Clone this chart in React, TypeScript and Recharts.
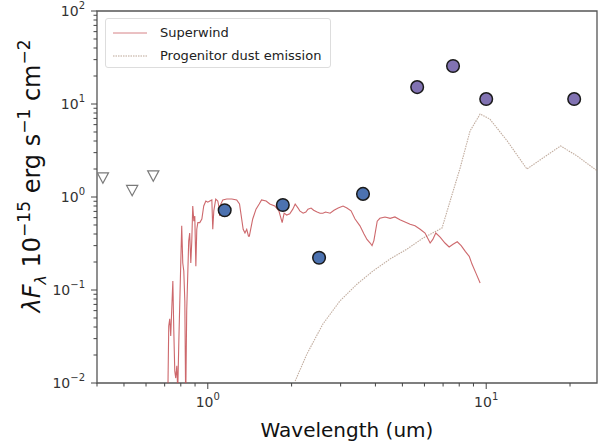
import { ComposedChart, Line, Scatter, XAxis, YAxis, ReferenceArea } from "recharts"

// Superwind model spectrum (wavelength in um, lambda F_lambda in 1e-15 erg/s/cm2)
const swWave = [
  0.718, 0.724, 0.73, 0.736, 0.749, 0.755, 0.761, 0.767, 0.774, 0.78, 0.787, 0.8, 0.806, 0.813,
  0.82, 0.827, 0.833, 0.84, 0.854, 0.861, 0.869, 0.876, 0.883, 0.891, 0.898, 0.906, 0.913, 0.921,
  0.936, 0.952, 0.967, 0.984, 1.0, 1.017, 1.034, 1.042, 1.051, 1.068, 1.086, 1.095, 1.104, 1.114,
  1.132, 1.17, 1.22, 1.27, 1.3, 1.34, 1.36, 1.38, 1.4, 1.41, 1.45, 1.49, 1.53, 1.56, 1.62, 1.67,
  1.74, 1.8, 1.85, 1.88, 1.92, 1.97, 2.02, 2.06, 2.11, 2.14, 2.2, 2.25, 2.29, 2.35, 2.4, 2.47,
  2.53, 2.59, 2.65, 2.75, 2.84, 2.94, 3.06, 3.16, 3.27, 3.38, 3.52, 3.64, 3.73, 3.83, 3.89, 3.95,
  4.06, 4.15, 4.33, 4.52, 4.7, 4.9, 5.11, 5.33, 5.55, 5.79, 6.03, 6.29, 6.43, 6.59, 6.83, 7.11,
  7.36, 7.6, 7.87, 8.13, 8.41, 8.69, 8.89, 9.2, 9.51,
]
const swFlux = [
  0.006, 0.041, 0.049, 0.032, 0.125, 0.036, 0.0135, 0.0113, 0.0153, 0.0082, 0.028, 0.205, 0.49, 0.195,
  0.16, 0.076, 0.006, 0.06, 0.336, 0.41, 0.195, 0.336, 0.8, 0.55, 0.625, 0.18, 0.45, 0.53,
  0.53, 0.58, 0.8, 0.906, 0.88, 0.906, 0.93, 0.45, 0.71, 0.95, 0.906, 0.8, 0.625, 0.84,
  0.93, 0.95, 0.95, 0.93, 0.84, 0.45, 0.41, 0.45, 0.38, 0.38, 0.58, 0.74, 0.84, 0.93, 0.906, 0.84,
  0.8, 0.71, 0.53, 0.67, 0.64, 0.66, 0.74, 0.84, 0.76, 0.71, 0.67, 0.69, 0.74, 0.76, 0.72, 0.69,
  0.67, 0.67, 0.69, 0.67, 0.72, 0.76, 0.8, 0.76, 0.71, 0.58, 0.49, 0.4, 0.35, 0.32, 0.3, 0.34,
  0.55, 0.59, 0.61, 0.59, 0.61, 0.57, 0.54, 0.51, 0.49, 0.45, 0.41, 0.32, 0.35, 0.41, 0.37, 0.32,
  0.29, 0.31, 0.33, 0.3, 0.26, 0.23, 0.19, 0.15, 0.119,
]

// Progenitor dust emission model
const dustWave = [
  2.06, 2.27, 2.59, 2.98, 3.44, 3.92, 4.52, 5.2, 5.93, 6.94, 7.42, 8.06, 8.75, 9.51, 10.3, 11.9,
  14.0, 16.0, 18.5, 21.2, 25.1,
]
const dustFlux = [
  0.0105, 0.0205, 0.043, 0.076, 0.116, 0.16, 0.216, 0.276, 0.362, 0.464, 0.906, 2.05, 5.13, 7.8, 6.9,
  4.0, 2.0, 2.63, 3.54, 2.76, 1.9,
]

// photometry
const limitWave = [0.42, 0.535, 0.637]
const limitFlux = [1.6, 1.17, 1.68]
const nirWave = [1.15, 1.86, 2.51, 3.61]
const nirFlux = [0.72, 0.82, 0.222, 1.08]
const mirWave = [5.65, 7.6, 10.0, 20.7]
const mirFlux = [15.2, 25.6, 11.3, 11.3]

const xTicks = [0.4, 0.5, 0.6, 0.7, 0.8, 0.9, 1, 2, 3, 4, 5, 6, 7, 8, 9, 10, 20]
const yTicks = [
  0.01, 0.02, 0.03, 0.04, 0.05, 0.06, 0.07, 0.08, 0.09,
  0.1, 0.2, 0.3, 0.4, 0.5, 0.6, 0.7, 0.8, 0.9,
  1, 2, 3, 4, 5, 6, 7, 8, 9,
  10, 20, 30, 40, 50, 60, 70, 80, 90, 100,
]

const zip = (xs: number[], ys: number[]) => xs.map((x, i) => ({ x, y: ys[i] }))
const superwind = zip(swWave, swFlux)
const dust = zip(dustWave, dustFlux)
const limits = zip(limitWave, limitFlux)
const nir = zip(nirWave, nirFlux)
const mir = zip(mirWave, mirFlux)

const FONT = "'DejaVu Sans', sans-serif"
const INK = "#444"

function powExp(v: number) {
  const e = Math.round(Math.log10(v))
  return Math.abs(Math.log10(v) - e) < 1e-6 ? e : null
}

function expLabel(e: number) {
  return e < 0 ? "\u2212" + Math.abs(e) : String(e)
}

function XTick({ x, y, payload }: any) {
  const e = powExp(payload.value)
  return (
    <g>
      <line x1={x} x2={x} y1={y} y2={y + (e !== null ? 6 : 3.5)} stroke={INK} strokeWidth={1} />
      {e !== null && (
        <text x={x} y={y + 24} textAnchor="middle" fontFamily={FONT} fontSize={14} fill="#333">
          10
          <tspan dy={-7} fontSize={10}>{expLabel(e)}</tspan>
        </text>
      )}
    </g>
  )
}

function YTick({ x, y, payload }: any) {
  const e = powExp(payload.value)
  return (
    <g>
      <line x1={x} x2={x - (e !== null ? 6 : 3.5)} y1={y} y2={y} stroke={INK} strokeWidth={1} />
      {e !== null && (
        <text x={x - 12} y={y + 5} textAnchor="end" fontFamily={FONT} fontSize={14} fill="#333">
          10
          <tspan dy={-7} fontSize={10}>{expLabel(e)}</tspan>
        </text>
      )}
    </g>
  )
}

function YLabel() {
  const cx = 40
  const cy = 176
  return (
    <text
      x={cx}
      y={cy}
      transform={`rotate(-90, ${cx}, ${cy})`}
      textAnchor="middle"
      fontFamily={FONT}
      fontSize={24}
      fill="#111"
    >
      <tspan fontStyle="italic">λF</tspan>
      <tspan fontSize={16} dy={6} fontStyle="italic">λ</tspan>
      <tspan dy={-6}> 10</tspan>
      <tspan fontSize={17} dy={-10}>{"\u221215"}</tspan>
      <tspan dy={10}> erg s</tspan>
      <tspan fontSize={17} dy={-10}>{"\u22121"}</tspan>
      <tspan dy={10}> cm</tspan>
      <tspan fontSize={17} dy={-10}>{"\u22122"}</tspan>
    </text>
  )
}

function Circle({ cx, cy, fill }: any) {
  return <circle cx={cx} cy={cy} r={6.3} fill={fill} stroke="#1a1a1a" strokeWidth={1.5} />
}

function DownTriangle({ cx, cy }: any) {
  const w = 5.6
  const h = 5.2
  return (
    <polygon
      points={`${cx - w},${cy - h} ${cx + w},${cy - h} ${cx},${cy + h}`}
      fill="none"
      stroke="#7a7a7a"
      strokeWidth={1.2}
    />
  )
}

function Legend() {
  const row = { display: "flex", alignItems: "center", height: 23 } as const
  return (
    <div
      style={{
        position: "absolute",
        left: 105,
        top: 18,
        width: 226,
        height: 50,
        border: "1px solid #ddd",
        borderRadius: 3,
        background: "rgba(255,255,255,0.85)",
        fontFamily: FONT,
        fontSize: 13,
        color: "#222",
        padding: "2px 0 0 6px",
        boxSizing: "border-box",
      }}
    >
      <div style={row}>
        <svg width={48} height={10}>
          <line x1={1} x2={35} y1={5} y2={5} stroke="#C44E52" strokeOpacity={0.7} strokeWidth={1} />
        </svg>
        <span>Superwind</span>
      </div>
      <div style={row}>
        <svg width={48} height={10}>
          <line x1={1} x2={35} y1={5} y2={5} stroke="#a0806a" strokeOpacity={0.7} strokeWidth={1.1} strokeDasharray="1.5 1" />
        </svg>
        <span>Progenitor dust emission</span>
      </div>
    </div>
  )
}

export default function App() {
  return (
    <div style={{ position: "absolute", left: 0, top: 0, width: 600, height: 442, background: "#fff" }}>
      <ComposedChart width={600} height={442} margin={{ top: 11, right: 3, bottom: 0, left: 0 }}>
        <XAxis
          dataKey="x"
          type="number"
          scale="log"
          domain={[0.4, 25]}
          allowDataOverflow
          ticks={xTicks}
          interval={0}
          tick={<XTick />}
          tickLine={false}
          tickSize={0}
          tickMargin={0}
          axisLine={false}
          height={59}
        />
        <YAxis
          dataKey="y"
          type="number"
          scale="log"
          domain={[0.01, 100]}
          allowDataOverflow
          ticks={yTicks}
          interval={0}
          tick={<YTick />}
          tickLine={false}
          tickSize={0}
          tickMargin={0}
          axisLine={false}
          width={97}
        />
        <Line
          data={dust}
          dataKey="y"
          type="linear"
          stroke="#a0806a"
          strokeOpacity={0.65}
          strokeWidth={1.1}
          strokeDasharray="1.5 1"
          dot={false}
          activeDot={false}
          isAnimationActive={false}
        />
        <Line
          data={superwind}
          dataKey="y"
          type="linear"
          stroke="#C44E52"
          strokeOpacity={0.85}
          strokeWidth={1.1}
          dot={false}
          activeDot={false}
          isAnimationActive={false}
        />
        <Scatter data={limits} dataKey="y" shape={<DownTriangle />} isAnimationActive={false} />
        <Scatter data={nir} dataKey="y" fill="#4C72B0" shape={<Circle fill="#4C72B0" />} isAnimationActive={false} />
        <Scatter data={mir} dataKey="y" fill="#8172B2" shape={<Circle fill="#8172B2" />} isAnimationActive={false} />
        <ReferenceArea x1={0.4} x2={25} y1={0.01} y2={100} fill="none" fillOpacity={0} stroke="#555" strokeWidth={1.3} />
        <YLabel />
        <text x={347} y={437} textAnchor="middle" fontFamily={FONT} fontSize={20} fill="#111">
          Wavelength (um)
        </text>
      </ComposedChart>
      <Legend />
    </div>
  )
}
